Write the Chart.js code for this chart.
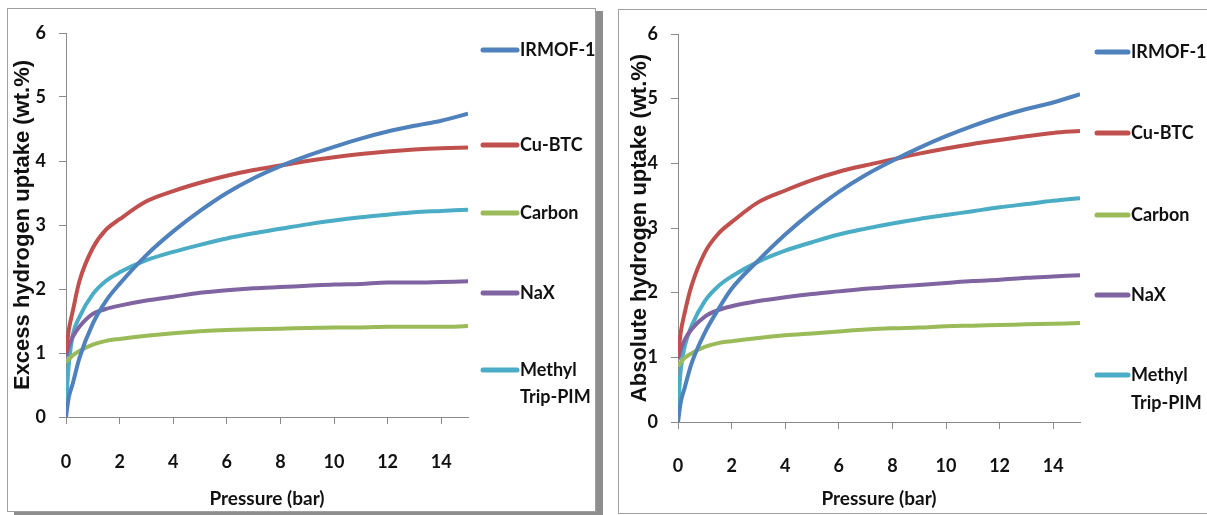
<!DOCTYPE html>
<html lang="en">
<head>
<meta charset="UTF-8">
<title>Hydrogen uptake</title>
<script src="https://cdn.jsdelivr.net/npm/chart.js@4.4.1/dist/chart.umd.min.js"></script>
<style>
body{margin:0;background:#fff;width:1207px;height:515px;overflow:hidden;position:relative}
.panel{position:absolute;background:#fff;border:1px solid #a0a0a0}
#p1{left:7px;top:8px;width:587px;height:502px;box-shadow:7px 3px 0 #8e8e8e}
#p2{left:618px;top:9px;width:600px;height:503px;border-right:none}
canvas{position:absolute}
</style>
</head>
<body>
<div class="panel" id="p1"></div>
<div class="panel" id="p2"></div>
<canvas id="c1" width="588" height="504" style="left:7px;top:8px"></canvas>
<canvas id="c2" width="587" height="503" style="left:620px;top:10px"></canvas>
<script>
// pressure points (bar), shared by both panels
const pressure = [0, 0.1, 0.25, 0.5, 1, 1.5, 2, 3, 4, 5, 6, 7, 8, 9, 10, 11, 12, 13, 14, 15];

// left panel: excess uptake (wt.%)
const excessIRMOF  = [0, 0.30, 0.52, 0.92, 1.46, 1.82, 2.08, 2.53, 2.90, 3.22, 3.50, 3.73, 3.92, 4.08, 4.22, 4.35, 4.46, 4.55, 4.63, 4.74];
const excessCuBTC  = [1.00, 1.35, 1.65, 2.12, 2.64, 2.93, 3.09, 3.37, 3.53, 3.66, 3.77, 3.86, 3.93, 4.00, 4.06, 4.11, 4.15, 4.18, 4.20, 4.21];
const excessCarbon = [0.86, 0.90, 0.96, 1.03, 1.13, 1.19, 1.22, 1.27, 1.31, 1.34, 1.36, 1.37, 1.38, 1.39, 1.40, 1.40, 1.41, 1.41, 1.41, 1.42];
const excessNaX    = [0.95, 1.10, 1.25, 1.41, 1.61, 1.69, 1.74, 1.82, 1.88, 1.94, 1.98, 2.01, 2.03, 2.05, 2.07, 2.08, 2.10, 2.10, 2.11, 2.12];
const excessPIM    = [0.20, 0.80, 1.28, 1.56, 1.92, 2.13, 2.26, 2.45, 2.58, 2.69, 2.79, 2.87, 2.94, 3.01, 3.07, 3.12, 3.16, 3.20, 3.22, 3.24];

// right panel: absolute uptake (wt.%)
const absIRMOF  = [0, 0.30, 0.53, 0.90, 1.38, 1.74, 2.06, 2.50, 2.90, 3.25, 3.56, 3.82, 4.04, 4.24, 4.42, 4.58, 4.72, 4.84, 4.94, 5.07];
const absCuBTC  = [1.00, 1.38, 1.69, 2.10, 2.62, 2.91, 3.09, 3.40, 3.58, 3.74, 3.87, 3.97, 4.06, 4.15, 4.23, 4.30, 4.36, 4.42, 4.47, 4.50];
const absCarbon = [0.86, 0.92, 0.99, 1.06, 1.16, 1.22, 1.25, 1.30, 1.34, 1.37, 1.40, 1.43, 1.45, 1.46, 1.48, 1.49, 1.50, 1.51, 1.52, 1.53];
const absNaX    = [0.97, 1.12, 1.27, 1.43, 1.63, 1.73, 1.79, 1.87, 1.93, 1.98, 2.02, 2.06, 2.09, 2.12, 2.15, 2.18, 2.20, 2.23, 2.25, 2.27];
const absPIM    = [0.20, 0.80, 1.17, 1.48, 1.87, 2.10, 2.25, 2.48, 2.65, 2.78, 2.90, 2.99, 3.07, 3.14, 3.20, 3.26, 3.32, 3.37, 3.42, 3.46];

const seriesNames = ['IRMOF-1', 'Cu-BTC', 'Carbon', 'NaX', 'Methyl Trip-PIM'];
const legendText = [['IRMOF-1'], ['Cu-BTC'], ['Carbon'], ['NaX'], ['Methyl', 'Trip-PIM']];
const colors = ['#4F81BD', '#C0504D', '#9BBB59', '#8064A2', '#4BACC6'];
const xTicks = [0, 2, 4, 6, 8, 10, 12, 14];

const lato = 'Lato, "Liberation Sans", sans-serif';
const wide = '"Liberation Sans", Arial, sans-serif';

// legend drawn on the right side of each chart
const sideLegend = {
  id: 'sideLegend',
  afterDraw(chart, args, opts) {
    const ctx = chart.ctx;
    ctx.save();
    ctx.font = 'bold 18px ' + lato;
    ctx.textBaseline = 'middle';
    chart.data.datasets.forEach((ds, i) => {
      const y = opts.ys[i];
      ctx.strokeStyle = ds.borderColor;
      ctx.lineWidth = 5;
      ctx.lineCap = 'round';
      ctx.beginPath();
      ctx.moveTo(opts.x, y);
      ctx.lineTo(opts.x + opts.len, y);
      ctx.stroke();
      ctx.fillStyle = '#111';
      legendText[i].forEach((t, k) => ctx.fillText(t, opts.x + opts.len + 3, y + k * opts.gap));
    });
    ctx.restore();
  }
};

function makeChart(id, series, yTitle, c) {
  const datasets = series.map((vals, i) => ({
    label: seriesNames[i],
    data: pressure.map((p, k) => ({x: p, y: vals[k]})),
    borderColor: colors[i],
    backgroundColor: colors[i],
    borderWidth: 4,
    pointRadius: 0,
    fill: false,
    cubicInterpolationMode: 'monotone'
  }));
  return new Chart(document.getElementById(id), {
    type: 'line',
    data: {datasets: datasets},
    plugins: [sideLegend],
    options: {
      responsive: false,
      animation: false,
      devicePixelRatio: 1,
      layout: {padding: {left: 0, top: c.top, right: c.right, bottom: 0}},
      plugins: {
        legend: {display: false},
        tooltip: {enabled: false},
        sideLegend: c.legend
      },
      scales: {
        x: {
          type: 'linear', min: 0, max: 15,
          afterBuildTicks: s => { s.ticks = xTicks.map(v => ({value: v})); },
          afterFit: s => { s.height = c.xh; },
          ticks: {color: '#111', padding: c.xpad, font: {family: lato, size: 18, weight: 'bold'}, maxRotation: 0},
          grid: {drawOnChartArea: false, tickLength: 7, color: '#8a8a8a'},
          border: {color: '#8a8a8a'},
          title: {display: true, text: 'Pressure (bar)', color: '#111',
                  font: {family: lato, size: 19, weight: 'bold'}, padding: {top: 0, bottom: c.xtp}}
        },
        y: {
          min: 0, max: 6,
          afterFit: s => { s.width = c.yw; },
          ticks: {stepSize: 1, color: '#111', padding: 13, font: {family: lato, size: 18, weight: 'bold'}},
          grid: {drawOnChartArea: false, tickLength: 7, color: '#8a8a8a'},
          border: {color: '#8a8a8a'},
          title: {display: true, text: yTitle, color: '#111',
                  font: {family: wide, size: 22, weight: 'bold'}, padding: {top: c.ytp, bottom: 0}}
        }
      }
    }
  });
}

makeChart('c1', [excessIRMOF, excessCuBTC, excessCarbon, excessNaX, excessPIM],
  'Excess hydrogen uptake (wt.%)',
  {top: 25, right: 127, xh: 95, yw: 59, xpad: 27, xtp: 2, ytp: 3,
   legend: {x: 476, len: 34, gap: 27, ys: [42, 137, 205, 285, 362]}});

makeChart('c2', [absIRMOF, absCuBTC, absCarbon, absNaX, absPIM],
  'Absolute hydrogen uptake (wt.%)',
  {top: 24, right: 127, xh: 91, yw: 58, xpad: 26, xtp: 3, ytp: 7,
   legend: {x: 477, len: 31, gap: 28, ys: [42, 123, 205, 285, 365]}});
</script>
</body>
</html>
